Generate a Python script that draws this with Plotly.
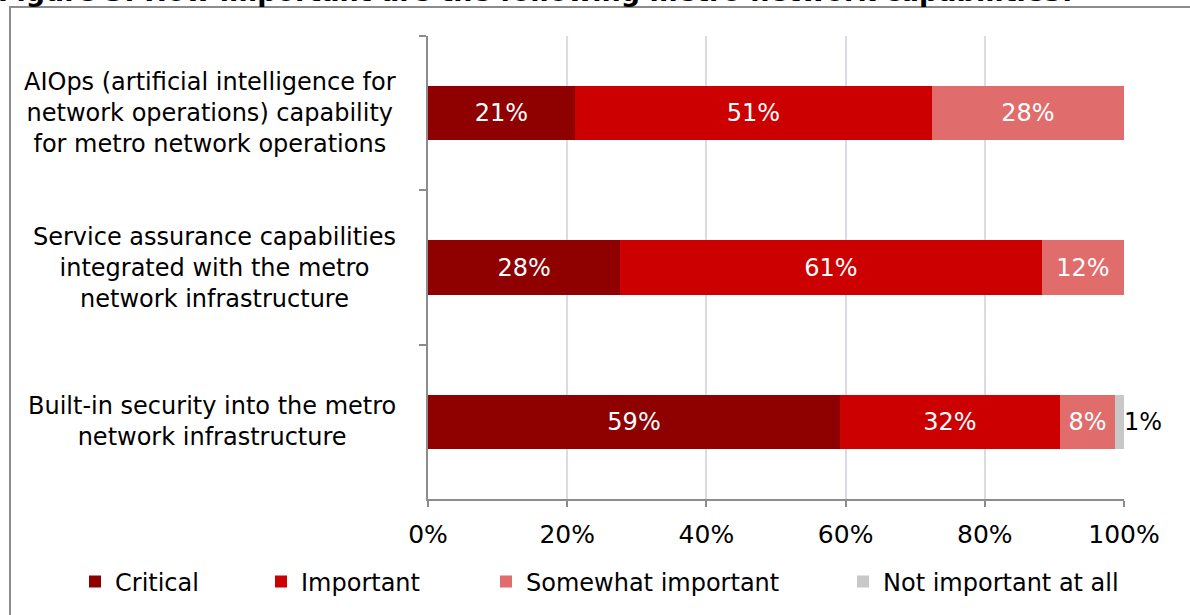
import plotly.graph_objects as go

categories = [
    "AIOps (artificial intelligence for<br>network operations) capability<br>for metro network operations",
    "Service assurance capabilities<br>integrated with the metro<br>network infrastructure",
    "Built-in security into the metro<br>network infrastructure",
]
series_names = ["Critical", "Important", "Somewhat important", "Not important at all"]
critical = [21.1, 27.6, 59.2]
important = [51.3, 60.6, 31.6]
somewhat = [27.6, 11.8, 7.9]
not_important = [0.0, 0.0, 1.3]
x_ticks = [0, 20, 40, 60, 80, 100]
title_text = "Figure 3: How important are the following metro network capabilities?"

colors = ["#8f0000", "#cc0000", "#e06c6c", "#c8c8c8"]
values = [critical, important, somewhat, not_important]

FONT = "DejaVu Sans, Verdana, sans-serif"
FS = 24

# plot area in pixels
W, H = 1190, 615
L, R, T, B = 428, 1124, 36, 500
pw, ph = R - L, B - T

def px_x(px):
    return (px - L) / pw

def px_y(py):
    return (B - py) / ph

fig = go.Figure()
legend_ids = ["legend", "legend2", "legend3", "legend4"]
for i, (name, vals, col) in enumerate(zip(series_names, values, colors)):
    last = i == len(series_names) - 1
    txt = ["" if (last or v <= 0) else f"{round(v)}%" for v in vals]
    fig.add_trace(go.Bar(
        y=categories, x=vals, name=name, orientation="h",
        marker=dict(color=col, line=dict(width=0)),
        text=txt,
        textposition="inside",
        insidetextanchor="middle",
        textangle=0,
        constraintext="none",
        insidetextfont=dict(color="white", size=FS, family=FONT),
        cliponaxis=False,
        legend=legend_ids[i],
        hoverinfo="skip",
    ))

# label of the thin outer segment, placed just past the stack end
for ci, c in enumerate(categories):
    v = not_important[ci]
    if v > 0:
        total = round(critical[ci] + important[ci] + somewhat[ci] + v, 4)
        total = min(total, 100)
        fig.add_annotation(
            x=total, xref="x", y=c, yref="y",
            text=f"{round(v)}%", showarrow=False,
            xanchor="left", yanchor="middle", xshift=-2,
            font=dict(size=FS, family=FONT, color="black"),
        )

legend_sym_centers = [99, 285, 510, 867]
legend_y = px_y(582)
layout_legends = {}
for i, lid in enumerate(legend_ids):
    layout_legends[lid] = dict(
        x=px_x(legend_sym_centers[i] - 24), y=legend_y,
        xanchor="left", yanchor="middle",
        orientation="h",
        font=dict(size=FS, family=FONT, color="black"),
        bgcolor="rgba(0,0,0,0)", borderwidth=0,
        itemwidth=30,
    )

fig.update_layout(
    width=W, height=H,
    margin=dict(l=L, r=W - R, t=T, b=H - B, pad=0),
    barmode="stack",
    bargap=0.65,
    plot_bgcolor="white", paper_bgcolor="white",
    font=dict(family=FONT, size=FS, color="black"),
    showlegend=True,
    **layout_legends,
)

fig.update_xaxes(
    range=[0, 100], tickvals=x_ticks, ticktext=[f"{t}%" for t in x_ticks],
    showgrid=True, gridcolor="#d9dce8", gridwidth=1.5,
    showline=True, linecolor="#8c8c8c", linewidth=1.5,
    ticks="outside", ticklen=6, tickcolor="#8c8c8c", tickwidth=1.5,
    tickfont=dict(size=25, family=FONT, color="black"),
    ticklabelstandoff=6,
    zeroline=False, fixedrange=True,
)
fig.update_yaxes(
    autorange="reversed", showticklabels=False,
    showline=True, linecolor="#8c8c8c", linewidth=1.5,
    ticks="outside", ticklen=7, tickcolor="#8c8c8c", tickwidth=1.5,
    tickson="boundaries", showgrid=False, fixedrange=True,
)

# category labels, each line centred in a block right-aligned near the axis
for c in categories:
    fig.add_annotation(
        x=px_x(398), xref="paper", y=c, yref="y",
        text=c, showarrow=False, xanchor="right", yanchor="middle",
        align="center", font=dict(size=FS, family=FONT, color="black"),
    )

# cropped title at top
fig.add_annotation(
    x=px_x(-4), xref="paper", y=px_y(9), yref="paper",
    text=f"<b>{title_text}</b>", showarrow=False,
    xanchor="left", yanchor="bottom",
    font=dict(size=27, family=FONT, color="black"),
)

# outer frame
fig.add_shape(
    type="rect", xref="paper", yref="paper",
    x0=px_x(10), y0=px_y(7), x1=px_x(1300), y1=px_y(700),
    line=dict(color="#8c8c8c", width=2), fillcolor="rgba(0,0,0,0)",
    layer="below",
)

fig.write_html("out.html")
